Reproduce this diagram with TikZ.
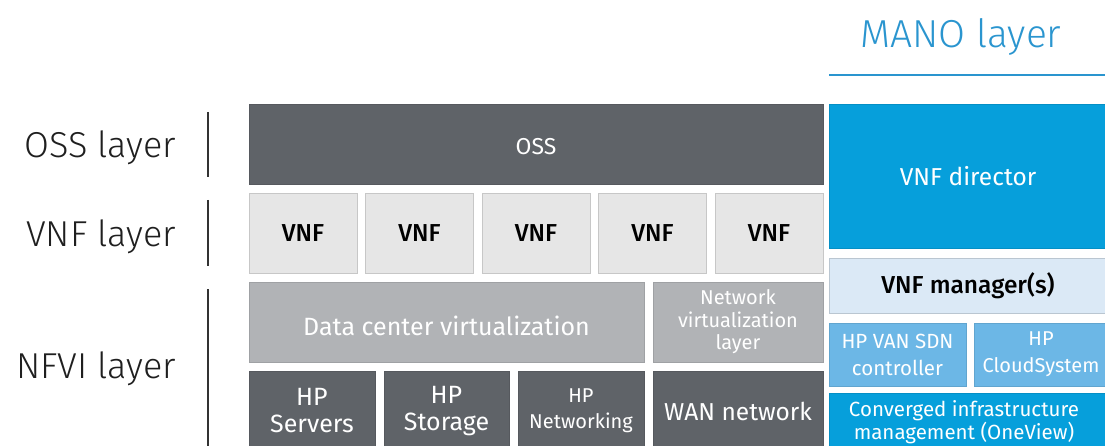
\documentclass[tikz,border=0pt]{standalone}
\usepackage{fontspec}
\setmainfont{Fira Sans}
\newfontfamily\thinfont{Fira Sans Light}
\newfontfamily\medfont{Fira Sans Medium}
\usepackage{xcolor}
\usepackage{tikz}
\usetikzlibrary{positioning}

\definecolor{ossgray}{HTML}{5F6368}
\definecolor{vnfgray}{HTML}{E6E6E6}
\definecolor{dcgray}{HTML}{B1B3B6}
\definecolor{hpblue}{HTML}{069FDB}
\definecolor{paleblue}{HTML}{DBE9F6}
\definecolor{skyblue}{HTML}{6CB7E6}
\definecolor{manoblue}{HTML}{2A95CF}

\begin{document}
\begin{tikzpicture}[x=1pt, y=-1pt,
    box/.style={rectangle, inner sep=0pt, outer sep=0pt, line width=0.8pt, align=center},
    darkbox/.style={box, fill=ossgray, draw=ossgray!90!black, text=white},
    vnfbox/.style={box, fill=vnfgray, draw=black!22, text=black, font=\medfont\fontsize{24.5}{27}\selectfont},
    midbox/.style={box, fill=dcgray, draw=dcgray!90!black, text=white},
    bluebox/.style={box, fill=hpblue, draw=hpblue!90!black, text=white},
    layerlabel/.style={anchor=base east, inner sep=0pt, text=black!88, font=\thinfont\fontsize{36}{40}\selectfont},
    layerbar/.style={black!80, line width=1.6pt}]
    \useasboundingbox (0,0) rectangle (1105,446);
    \clip (0,0) rectangle (1105,446);
    % layer labels on the left
    \node[layerlabel] (osslabel) at (176,158) {OSS layer};
    \node[layerlabel] (vnflabel) at (176,247) {VNF layer};
    \node[layerlabel] (nfvilabel) at (176,378) {NFVI layer};
    \coordinate (b1) at (208,112); \coordinate (b2) at (208,177);
    \coordinate (b3) at (208,200); \coordinate (b4) at (208,266);
    \coordinate (b5) at (208,289); \coordinate (b6) at (208,450);
    \draw[layerbar] (b1)--(b2); \draw[layerbar] (b3)--(b4); \draw[layerbar] (b5)--(b6);
    % OSS and VNF rows
    \node[darkbox, minimum width=574, minimum height=80] (oss) at (536,144) {};
    \node[text=white, font=\fontsize{23}{26}\selectfont] (osstext) at (536,147) {OSS};
    \foreach \i in {0,...,4}
        \node[vnfbox, minimum width=108, minimum height=80] (vnf\i) at (303+116.5*\i,233) {VNF};
    % NFVI rows
    \node[midbox, minimum width=395, minimum height=80] (dcv) at (446.5,322) {};
    \node[text=white, font=\fontsize{25}{28}\selectfont] (dcvtext) at (446.5,326) {Data center virtualization};
    \node[midbox, minimum width=170, minimum height=80, font=\fontsize{20}{22.5}\selectfont] (nvl) at (738,322) {Network\\virtualization\\layer};
    \node[darkbox, minimum width=126, minimum height=80, font=\fontsize{25}{27}\selectfont] (servers) at (312,411) {HP\\Servers};
    \node[darkbox, minimum width=125, minimum height=80, font=\fontsize{25}{27}\selectfont] (storage) at (446.5,411) {HP\\Storage};
    \node[darkbox, minimum width=126, minimum height=80, font=\fontsize{20}{26}\selectfont] (networking) at (581,411) {HP\\Networking};
    \node[darkbox, minimum width=170, minimum height=80, font=\fontsize{24.5}{27}\selectfont] (wan) at (738,411) {WAN network};
    % MANO column
    \node[text=manoblue, inner sep=0pt, anchor=base, font=\thinfont\fontsize{39}{44}\selectfont] (mano) at (961,48) {MANO layer};
    \coordinate (m1) at (829,75); \coordinate (m2) at (1105,75);
    \draw[manoblue, line width=1.6pt] (m1)--(m2);
    \node[bluebox, minimum width=278, minimum height=144, font=\fontsize{24.5}{27}\selectfont] (director) at (968,176) {VNF director};
    \node[box, fill=paleblue, draw=paleblue!85!black, text=black, minimum width=278, minimum height=55, font=\medfont\fontsize{24.5}{27}\selectfont] (manager) at (968,285.5) {VNF manager(s)};
    \node[box, fill=skyblue, draw=skyblue!90!black, text=white, minimum width=137, minimum height=63, font=\fontsize{20.5}{27}\selectfont] (sdn) at (897.5,354.5) {HP VAN SDN\\controller};
    \node[box, fill=skyblue, draw=skyblue!90!black, text=white, minimum width=134, minimum height=63, font=\fontsize{20}{27}\selectfont] (cloud) at (1041,354.5) {HP\\CloudSystem};
    \node[bluebox, minimum width=278, minimum height=58] (oneview) at (968,422) {};
    \node[text=white, align=center, font=\fontsize{20.5}{22.5}\selectfont] (oneviewtext) at (964,422) {Converged infrastructure\\management (OneView)};
\end{tikzpicture}
\end{document}
